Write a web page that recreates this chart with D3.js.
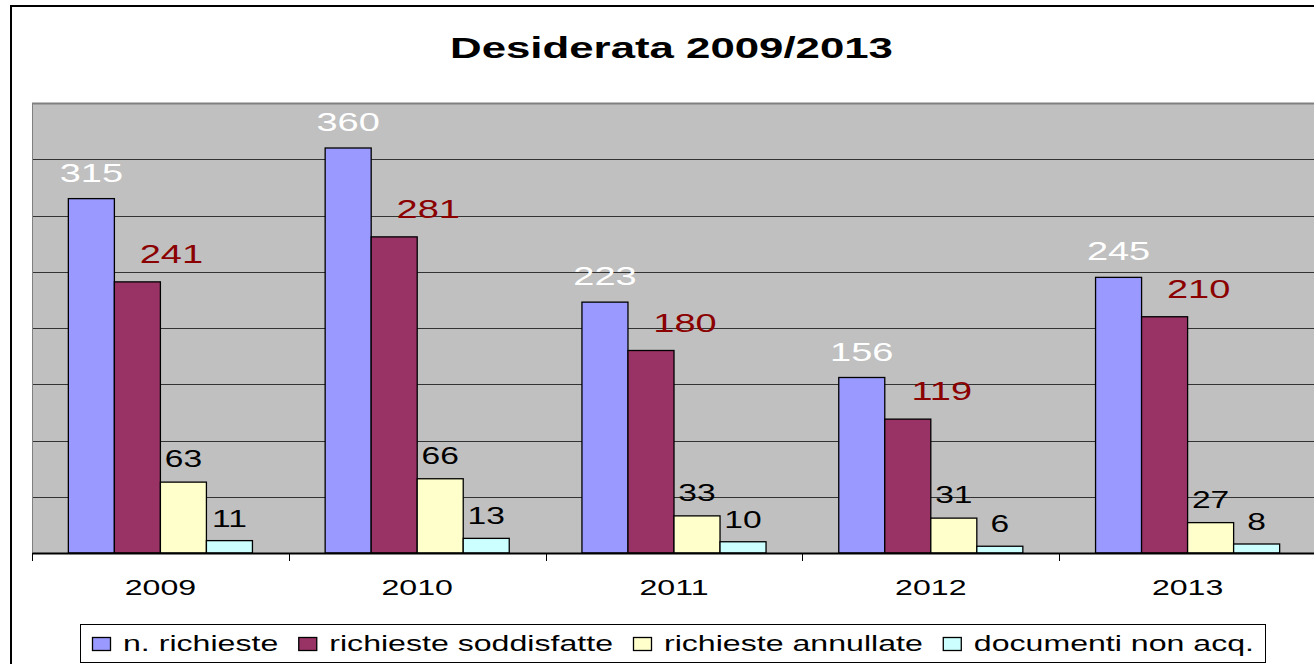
<!DOCTYPE html>
<html><head><meta charset="utf-8">
<script src="https://cdn.jsdelivr.net/npm/d3@7/dist/d3.min.js"></script>
<style>body{margin:0;background:#fff}svg{display:block;font-family:"Liberation Sans",Arial,sans-serif}</style>
</head><body>
<script>
const years = ["2009","2010","2011","2012","2013"];
const seriesNames = ["n. richieste","richieste soddisfatte","richieste annullate","documenti non acq."];
const nRichieste = [315,360,223,156,245];
const soddisfatte = [241,281,180,119,210];
const annullate = [63,66,33,31,27];
const nonAcq = [11,13,10,6,8];
const yTicks = [0,50,100,150,200,250,300,350,400];
const title = "Desiderata 2009/2013";

const series = [nRichieste, soddisfatte, annullate, nonAcq];
const colors = ["#9999FF","#993366","#FFFFCC","#CCFFFF"];
const labelColors = ["#FFFFFF","#8B0000","#000000","#000000"];
const labelSizes = [26,26,23,23];
const labelDx = [0,34,0,0];
const labelDy = [-17,-19,-15,-14];
const SX = 1.46;

const W=1314,H=664;
const svg = d3.select("body").append("svg").attr("width",W).attr("height",H);
svg.append("rect").attr("x",11).attr("y",6).attr("width",1400).attr("height",700)
  .attr("fill","#fff").attr("stroke","#000").attr("stroke-width",2);

const L=32,R=1316,T=103,B=553;
const x0 = d3.scaleBand().domain(years).range([L,R]).padding(0);
const x1 = d3.scaleBand().domain(d3.range(4)).range([0,x0.bandwidth()]).paddingInner(0).paddingOuter(0.79);
const y = d3.scaleLinear().domain([0,400]).range([B,T]);

function stext(g, x, yy, txt, size, fill, weight, anchor){
  return g.append("text").attr("transform",`translate(${x},${yy}) scale(${SX},1)`)
    .attr("text-anchor",anchor||"middle").attr("font-size",size).attr("fill",fill)
    .attr("font-weight",weight||"normal").text(txt);
}

// plot area
svg.append("rect").attr("x",L).attr("y",T).attr("width",R-L).attr("height",B-T).attr("fill","#C0C0C0");
svg.append("g").selectAll("line").data(yTicks.filter(d=>d>0&&d<400)).join("line")
  .attr("x1",L).attr("x2",R).attr("y1",d=>Math.round(y(d))+0.5).attr("y2",d=>Math.round(y(d))+0.5)
  .attr("stroke","#333").attr("stroke-width",1);
svg.append("line").attr("x1",L).attr("x2",R).attr("y1",T+0.5).attr("y2",T+0.5).attr("stroke","#808080").attr("stroke-width",2);
svg.append("line").attr("x1",L+0.5).attr("x2",L+0.5).attr("y1",T).attr("y2",B).attr("stroke","#808080").attr("stroke-width",1);

// bars
const gBars = svg.append("g");
years.forEach((yr,i)=>{
  series.forEach((s,j)=>{
    gBars.append("rect").attr("x",x0(yr)+x1(j)).attr("y",y(s[i]))
      .attr("width",x1.bandwidth()).attr("height",B-y(s[i]))
      .attr("fill",colors[j]).attr("stroke","#000").attr("stroke-width",1.3);
  });
});

// x axis
const xAxis = d3.axisBottom(x0).tickSize(0).tickFormat("");
const ax = svg.append("g").attr("transform",`translate(0,${B})`).call(xAxis);
ax.select(".domain").attr("stroke","#000").attr("stroke-width",2);
svg.append("g").selectAll("line").data(years.concat(["end"])).join("line")
  .attr("x1",(d,i)=>i<years.length?Math.round(x0(d))+0.5:R).attr("x2",(d,i)=>i<years.length?Math.round(x0(d))+0.5:R)
  .attr("y1",B).attr("y2",B+8).attr("stroke","#000");
years.forEach(yr=>stext(svg, x0(yr)+x0.bandwidth()/2, 595, yr, 22, "#000"));

// labels
years.forEach((yr,i)=>{
  series.forEach((s,j)=>{
    stext(svg, x0(yr)+x1(j)+x1.bandwidth()/2+labelDx[j], y(s[i])+labelDy[j], String(s[i]), labelSizes[j], labelColors[j]);
  });
});

// title
stext(svg, 671.5, 58, title, 30, "#000", "bold");

// legend
svg.append("rect").attr("x",80.5).attr("y",624.5).attr("width",1185).attr("height",38)
  .attr("fill","#fff").attr("stroke","#000").attr("stroke-width",1);
let lx = 92;
seriesNames.forEach((n,j)=>{
  svg.append("rect").attr("x",lx+0.5).attr("y",637.5).attr("width",18).attr("height",13)
    .attr("fill",colors[j]).attr("stroke","#000").attr("stroke-width",1.3);
  const t = stext(svg, lx+31, 651, n, 22, "#000", "normal", "start");
  const w = t.node().getComputedTextLength()*SX;
  lx = lx+31+w+20;
});
</script>
</body></html>
